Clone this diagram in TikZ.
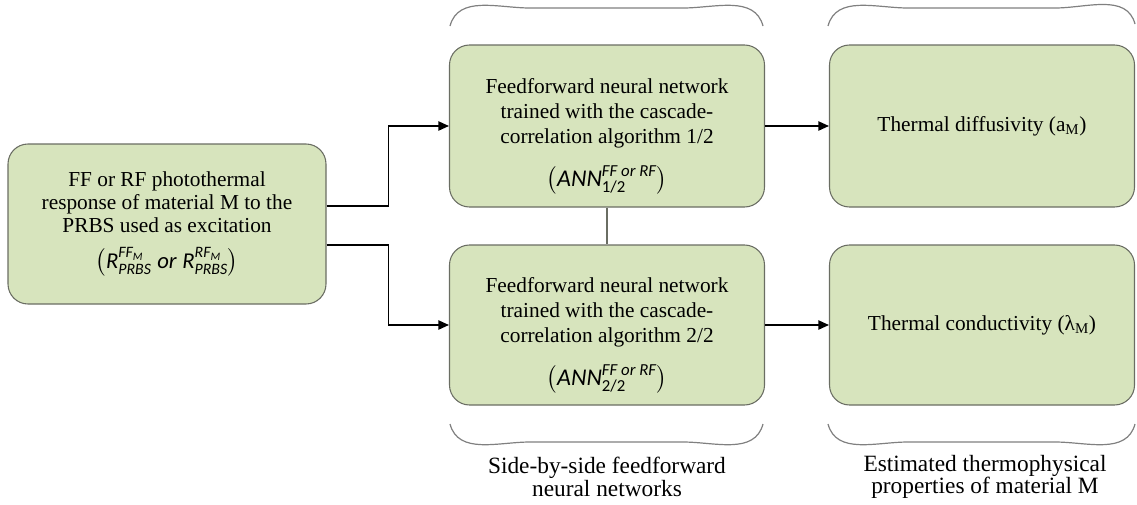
\documentclass[tikz,border=0pt]{standalone}
\usepackage{amsmath}
\usepackage{fontspec}
\setmainfont{Liberation Serif}
\setsansfont{Carlito}
\usetikzlibrary{arrows.meta}
\definecolor{boxfill}{HTML}{D7E4BD}
\definecolor{boxline}{HTML}{6A6D63}
\definecolor{bracecol}{HTML}{808080}
\newcommand{\sfit}[1]{\text{\sffamily\itshape #1}}
\newcommand{\sfup}[1]{\text{\sffamily #1}}
\begin{document}
\begin{tikzpicture}[x=0.75pt,y=-0.75pt,
  box/.style={draw=boxline, fill=boxfill, rounded corners=15pt, line width=0.8pt,
    align=center, inner sep=0pt},
  arr/.style={-{Triangle[length=8pt,width=7pt]}, line width=1.1pt, black},
  lnk/.style={line width=0.8pt, draw=boxline},
  brace/.style={draw=bracecol, line width=0.9pt},
  lbl/.style={align=center, font=\fontsize{17.5}{17}\selectfont}]
\useasboundingbox (0,0) rectangle (1137,504);

\node[box, minimum width=238.5pt, minimum height=120pt,
  font=\fontsize{16}{17}\selectfont] (L) at (167,224)
  {FF or RF photothermal\\ response of material M to the\\ PRBS used as excitation\\[10pt]
   {\fontsize{17}{20}\selectfont$\left(\sfit{R}^{\sfit{FF}_{\sfit{M}}}_{\sfit{PRBS}}\ \sfit{or}\ \sfit{R}^{\sfit{RF}_{\sfit{M}}}_{\sfit{PRBS}}\right)$}};

\node[box, minimum width=236.25pt, minimum height=121.5pt,
  font=\fontsize{16}{18.75}\selectfont] (M1) at (607,126)
  {\rule{0pt}{27pt}Feedforward neural network\\ trained with the cascade-\\ correlation algorithm 1/2\\[13pt]
   {\fontsize{18}{20}\selectfont$\left(\sfit{ANN}^{\sfit{FF or RF}}_{\sfup{1/2}}\right)$}};

\node[box, minimum width=236.25pt, minimum height=120pt,
  font=\fontsize{16}{18.75}\selectfont] (M2) at (607,325)
  {\rule{0pt}{27pt}Feedforward neural network\\ trained with the cascade-\\ correlation algorithm 2/2\\[13pt]
   {\fontsize{18}{20}\selectfont$\left(\sfit{ANN}^{\sfit{FF or RF}}_{\sfup{2/2}}\right)$}};

\node[box, minimum width=228.75pt, minimum height=121.5pt,
  font=\fontsize{16}{18}\selectfont] (R1) at (982,126)
  {Thermal diffusivity (a\textsubscript{M})};

\node[box, minimum width=228.75pt, minimum height=120pt,
  font=\fontsize{16}{18}\selectfont] (R2) at (982,325)
  {Thermal conductivity (λ\textsubscript{M})};

% connectors
\draw[arr] ([yshift=13.5pt]L.east) -- ++(62,0) |- (M1.west);
\draw[arr] ([yshift=-15.75pt]L.east) -- ++(62,0) |- (M2.west);
\draw[arr] (M1.east) -- (R1.west);
\draw[arr] (M2.east) -- (R2.west);
\draw[lnk] (M1.south) -- (M2.north);

% braces
\draw[brace] (450,26) to[out=75,in=180] (530,8) -- (683,8) to[out=0,in=105] (763,26);
\draw[brace] (828,26) to[out=75,in=180] (908,8) -- (1055,8) to[out=0,in=105] (1135,24);
\draw[brace] (450,424) to[out=-75,in=180] (530,442) -- (683,442) to[out=0,in=-105] (763,424);
\draw[brace] (828,424) to[out=-75,in=180] (908,442) -- (1055,442) to[out=0,in=-105] (1135,424);

\node[lbl] (LB1) at (607,477) {Side-by-side feedforward\\ neural networks};
\node[lbl] (LB2) at (985,477) {Estimated thermophysical\\ properties of material M};
\end{tikzpicture}
\end{document}
